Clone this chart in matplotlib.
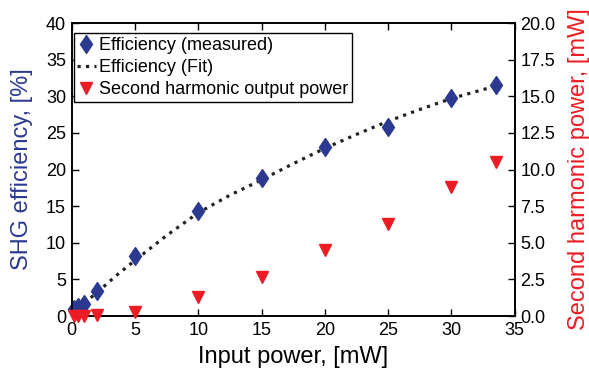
import numpy as np
import matplotlib.pyplot as plt

plt.rcParams['font.family'] = ['Liberation Sans', 'DejaVu Sans']

# input power [mW]
power = [0.15, 0.5, 1.0, 2.0, 5.0, 10.0, 15.0, 20.0, 25.0, 30.0, 33.5]
# measured SHG efficiency [%]
efficiency = [0.9, 1.2, 1.7, 3.45, 8.2, 14.4, 18.8, 23.1, 25.8, 29.8, 31.6]
# second harmonic output power [mW]
sh_power = [0.0, 0.01, 0.03, 0.1, 0.3, 1.3, 2.7, 4.5, 6.3, 8.8, 10.5]

# fit curve
fit_x = [0.5, 1.0, 2.0, 3.5, 5.0, 7.5, 10.0, 12.5, 15.0, 17.5, 20.0, 22.5, 25.0, 27.5, 30.0, 33.5]
fit_y = [1.0, 1.8, 3.2, 5.5, 7.6, 11.0, 14.1, 16.5, 18.6, 20.8, 22.9, 24.8, 26.6, 28.2, 29.7, 31.4]

blue = '#2b3990'
red = '#ed1c24'

fig = plt.figure(figsize=(5.89, 3.71), dpi=100)
ax1 = fig.add_axes([0.1216, 0.148, 0.7524, 0.790])
ax2 = ax1.twinx()

h1, = ax1.plot(power, efficiency, 'd', color=blue, markersize=9.5, clip_on=False,
               zorder=3, label='Efficiency (measured)')
h2, = ax1.plot(fit_x, fit_y, ':', color='#222222', linewidth=2.3,
               zorder=2, label='Efficiency (Fit)')
h3, = ax2.plot(power, sh_power, 'v', color=red, markersize=8.5, clip_on=False,
               zorder=3, label='Second harmonic output power')

ax1.set_xlim(0, 35)
ax1.set_ylim(0, 40)
ax2.set_ylim(0, 20)
ax1.set_xticks(np.arange(0, 36, 5))
ax1.set_yticks(np.arange(0, 41, 5))
ax2.set_yticks(np.arange(0, 20.1, 2.5))
ax2.set_yticklabels(['%.1f' % v for v in np.arange(0, 20.1, 2.5)])

ax1.tick_params(direction='in', length=5, width=1, labelsize=13, top=True, pad=4)
ax2.tick_params(direction='in', length=5, width=1, labelsize=13, pad=4)
for ax in (ax1, ax2):
    for s in ax.spines.values():
        s.set_linewidth(1.2)

ax1.set_xlabel('Input power, [mW]', fontsize=17, labelpad=5)
ax1.set_ylabel('SHG efficiency, [%]', fontsize=17, color=blue, labelpad=9)
ax2.set_ylabel('Second harmonic power, [mW]', fontsize=17, color=red, labelpad=9)

leg = ax2.legend(handles=[h1, h2, h3], loc='upper left', bbox_to_anchor=(0.005, 0.965),
                 fontsize=13, frameon=True, fancybox=False, framealpha=1,
                 edgecolor='black', handlelength=1.0, handletextpad=0.2,
                 labelspacing=0.28, borderpad=0.2, borderaxespad=0.0)
leg.get_frame().set_linewidth(1.0)

fig.savefig('out.png', dpi=100)
